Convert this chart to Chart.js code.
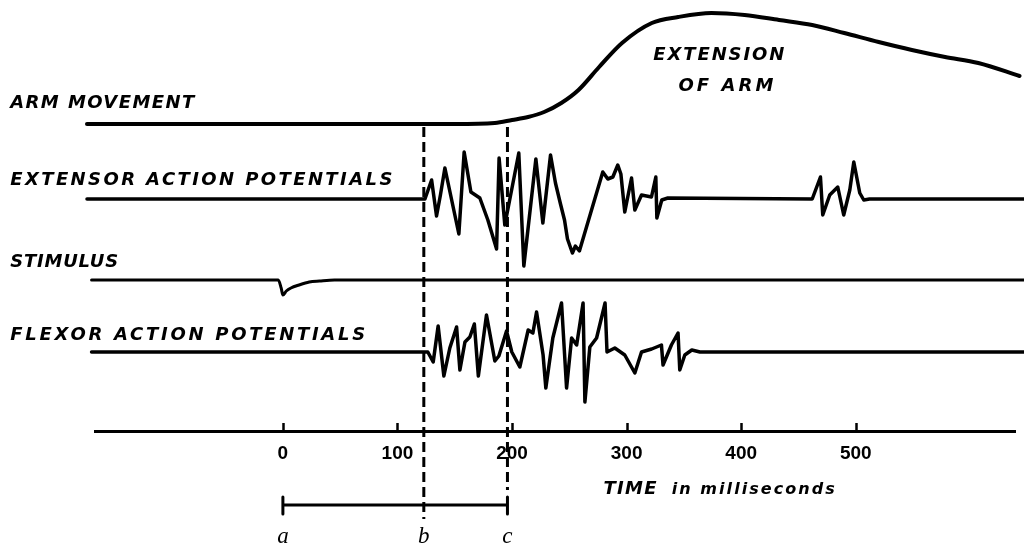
<!DOCTYPE html>
<html>
<head>
<meta charset="utf-8">
<script src="https://cdn.jsdelivr.net/npm/chart.js@4/dist/chart.umd.min.js"></script>
<style>
  html, body { margin: 0; padding: 0; background: #ffffff; }
  #wrap { width: 1024px; height: 544px; }
</style>
</head>
<body>
<div id="wrap"><canvas id="c" width="1024" height="544"></canvas></div>
<script>
// ---------------- DATA (time in ms, deflection in figure units, up = positive) -------------
const tickValues = [0, 100, 200, 300, 400, 500];

const armT = [-171, 150, 185, 200, 214, 228, 243, 258, 276, 296, 322, 345, 374, 403, 433, 462, 490, 520, 549, 578, 607, 643];
const armA = [0, 0, 1, 4, 7, 12, 21, 34, 57, 81, 101, 107, 111, 109, 104, 99, 91, 82, 74, 67, 61, 48];

const extT = [-171, 124, 129.8, 134.1, 137.5, 141.4, 153.6, 158.2, 164.1, 171.9, 178.9, 186.5, 188.7, 193.7, 198.1, 205.9, 210.3, 220.8, 226.9, 233.6, 237.9, 242.3, 245.8, 248.4, 252.7, 255.3, 258.8, 279.2, 283.6, 288, 292.3, 295, 298.4, 304.3, 307.2, 313, 321.7, 325.5, 326.4, 330.7, 336, 462, 469.2, 471.2, 477.3, 484.3, 489.5, 494.8, 498.3, 503.5, 507, 512, 647];
const extA = [0, 0, 19, -17, 4, 31, -35, 47, 7, 1, -21, -50, 41, -26, 0, 46, -67, 40, -24, 44, 16, -5, -21, -40, -54, -47, -52, 27, 20, 22, 34, 25, -13, 21, -11, 4, 2, 22, -19, -1, 1, 0, 22, -16, 4, 12, -16, 9, 37, 6, -1, 0, 0];

const stimT = [-167, -4, -1.5, 0, 3, 7, 14, 23, 32, 45, 647];
const stimA = [0, 0, -8, -15, -11, -8, -5, -2, -1, 0, 0];

const flxT = [-167, 126.5, 131.2, 135.5, 140.5, 145.7, 151.6, 154.5, 158.9, 163.2, 167.1, 170.6, 177.7, 185, 188.5, 195.2, 199.8, 206.8, 214.1, 218.2, 221.4, 227.1, 229.5, 235.6, 243.2, 247.6, 252, 256.4, 262, 263.6, 267.9, 273.8, 281.2, 282.9, 289.7, 298.4, 307.2, 313, 321.9, 330.4, 331.8, 339.1, 344.9, 346.4, 350.8, 356.9, 364, 647];
const flxA = [0, 0, -10, 26, -24, 4, 25, -18, 10, 15, 28, -24, 37, -9, -4, 21, 0, -15, 22, 19, 40, -3, -36, 14, 49, -36, 14, 7, 49, -50, 5, 14, 49, 0, 4, -3, -21, 0, 3, 7, -13, 7, 19, -18, -3, 2, 0, 0];

const markerT = [0, 123, 196];
const markerLabels = ['a', 'b', 'c'];

const traceLabels = ['ARM MOVEMENT', 'EXTENSOR ACTION POTENTIALS', 'STIMULUS', 'FLEXOR ACTION POTENTIALS'];
const noteLines = ['EXTENSION', 'OF ARM'];
const axisTitle = ['TIME', 'in milliseconds'];

// ---------------- LAYOUT (vertical positions in figure units, y grows downward) ------------
const L = {
  armBase: 124, extBase: 199, stimBase: 280, flxBase: 352,
  axisY: 431, bracketY: 505, dashTop: 127, dashBottomB: 519, dashBottomC: 490,
  capTop: 497, capBottom: 514
};

function trace(ts, as, base) {
  return ts.map((t, i) => ({ x: t, y: base - as[i] }));
}

const lineStyle = (w) => ({
  borderColor: '#000', borderWidth: w, pointRadius: 0, fill: false,
  borderJoinStyle: 'round', borderCapStyle: 'round', clip: false
});

const datasets = [
  Object.assign({ data: trace(armT, armA, L.armBase), tension: 0.4, cubicInterpolationMode: 'monotone' }, lineStyle(4)),
  Object.assign({ data: trace(extT, extA, L.extBase), tension: 0 }, lineStyle(3.5)),
  Object.assign({ data: trace(stimT, stimA, L.stimBase), tension: 0.4, cubicInterpolationMode: 'monotone' }, lineStyle(3)),
  Object.assign({ data: trace(flxT, flxA, L.flxBase), tension: 0 }, lineStyle(3.5)),
  // dashed marker lines b and c
  Object.assign({ data: [{ x: markerT[1], y: L.dashTop }, { x: markerT[1], y: L.dashBottomB }], borderDash: [10, 5] }, lineStyle(3), { borderCapStyle: 'butt' }),
  Object.assign({ data: [{ x: markerT[2], y: L.dashTop }, { x: markerT[2], y: L.dashBottomC }], borderDash: [10, 5] }, lineStyle(3), { borderCapStyle: 'butt' }),
  // bracket a..c
  Object.assign({ data: [{ x: markerT[0], y: L.bracketY }, { x: markerT[2], y: L.bracketY }] }, lineStyle(3), { borderCapStyle: 'butt' }),
  Object.assign({ data: [{ x: markerT[0], y: L.capTop }, { x: markerT[0], y: L.capBottom }] }, lineStyle(3), { borderCapStyle: 'butt' }),
  Object.assign({ data: [{ x: markerT[2], y: L.capTop }, { x: markerT[2], y: L.capBottom }] }, lineStyle(3), { borderCapStyle: 'butt' })
];

function drawSpaced(ctx, text, x, y, targetWidth, font) {
  ctx.font = font;
  ctx.letterSpacing = '0px';
  const w = ctx.measureText(text).width;
  const n = text.length;
  const sp = n > 1 ? Math.max(0, (targetWidth - w) / (n - 1)) : 0;
  ctx.letterSpacing = sp.toFixed(2) + 'px';
  ctx.fillText(text, x, y);
  ctx.letterSpacing = '0px';
}

const textPlugin = {
  id: 'figureText',
  afterDraw(chart) {
    const ctx = chart.ctx;
    const xs = chart.scales.x, ys = chart.scales.y;
    ctx.save();
    ctx.fillStyle = '#000';
    ctx.strokeStyle = '#000';
    ctx.textAlign = 'left';
    ctx.textBaseline = 'alphabetic';

    // upward tick marks on the time axis
    const ay = ys.getPixelForValue(L.axisY);
    ctx.lineWidth = 2.5;
    tickValues.forEach(v => {
      const px = Math.round(xs.getPixelForValue(v)) + 0.5;
      ctx.beginPath(); ctx.moveTo(px, ay); ctx.lineTo(px, ay - 8); ctx.stroke();
    });

    const capsFont = 'italic bold 18px "DejaVu Sans", Verdana, sans-serif';
    // trace labels (left margin)
    const labelX = xs.getPixelForValue(-238);
    const labelY = [107.5, 184.5, 266.5, 339.5];
    const labelW = [184, 382, 108, 355];
    traceLabels.forEach((t, i) => drawSpaced(ctx, t, labelX, ys.getPixelForValue(labelY[i]), labelW[i], capsFont));

    // EXTENSION OF ARM
    drawSpaced(ctx, noteLines[0], xs.getPixelForValue(323.3), ys.getPixelForValue(60), 131, capsFont);
    drawSpaced(ctx, noteLines[1], xs.getPixelForValue(345.2), ys.getPixelForValue(90.5), 95, capsFont);

    // axis title
    drawSpaced(ctx, axisTitle[0], xs.getPixelForValue(279.8), ys.getPixelForValue(494), 53, capsFont);
    drawSpaced(ctx, axisTitle[1], xs.getPixelForValue(339.4), ys.getPixelForValue(494), 163,
      'italic bold 16px "DejaVu Sans", Verdana, sans-serif');

    // a b c
    ctx.font = 'italic 23px "Liberation Serif", "DejaVu Serif", serif';
    ctx.textAlign = 'center';
    markerLabels.forEach((m, i) => {
      ctx.fillText(m, xs.getPixelForValue(markerT[i]), ys.getPixelForValue(543));
    });
    ctx.restore();
  }
};

new Chart(document.getElementById('c').getContext('2d'), {
  type: 'line',
  data: { datasets },
  options: {
    responsive: false,
    animation: false,
    events: [],
    layout: { padding: { left: 95, right: 9, top: 0, bottom: 0 } },
    plugins: { legend: { display: false }, tooltip: { enabled: false }, title: { display: false } },
    scales: {
      x: {
        type: 'linear', min: -164, max: 639,
        position: { y: L.axisY },
        z: 1,
        afterBuildTicks: (s) => { s.ticks = tickValues.map(v => ({ value: v })); },
        grid: { display: true, drawOnChartArea: false, drawTicks: false },
        border: { display: true, color: '#000', width: 3 },
        ticks: {
          color: '#000', padding: 11, autoSkip: false, maxRotation: 0,
          font: { family: '"Liberation Sans", Arial, sans-serif', size: 19, weight: 'bold' },
          showLabelBackdrop: true, backdropColor: '#ffffff', backdropPadding: 1,
          callback: (v) => String(v)
        }
      },
      y: { type: 'linear', min: 0, max: 544, reverse: true, display: false }
    }
  },
  plugins: [textPlugin]
});
</script>
</body>
</html>
